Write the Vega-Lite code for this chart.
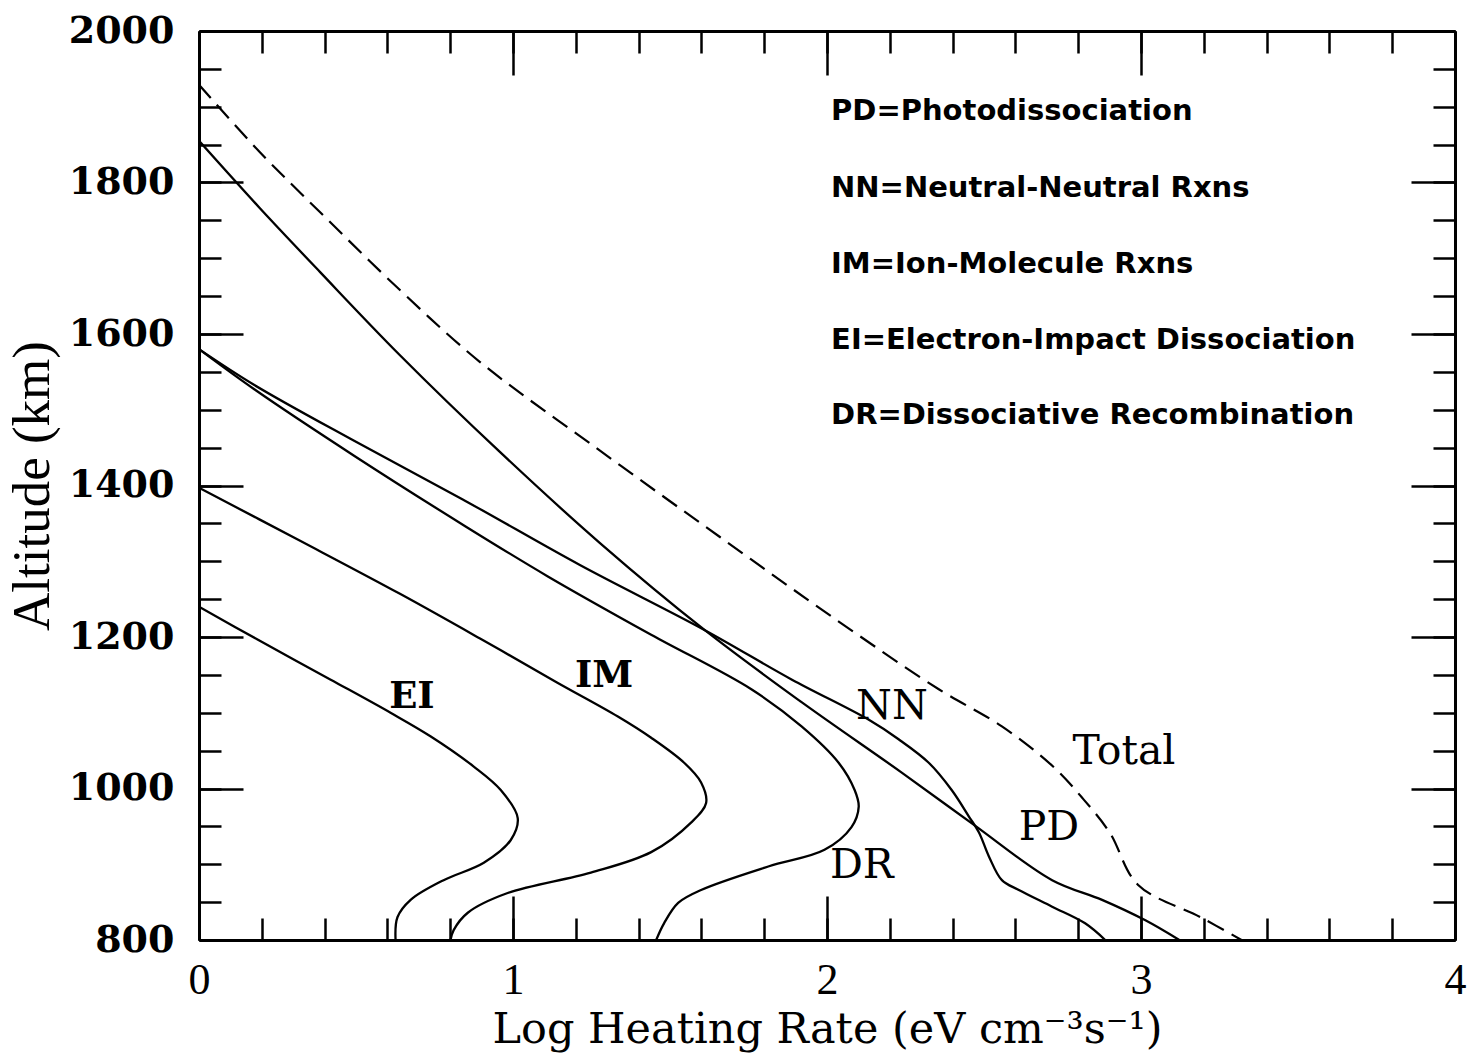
{
  "$schema": "https://vega.github.io/schema/vega-lite/v6.json",
  "width": 1256,
  "height": 909,
  "autosize": {"type": "none"},
  "padding": {"left": 199, "top": 31, "right": 20, "bottom": 119},
  "background": "white",
  "config": {"view": {"stroke": null}, "axis": {"grid": false}},
  "datasets": {
    "curves": [
      {"s": "PD", "i": 0, "x": 0, "y": 1855},
      {"s": "PD", "i": 1, "x": 0.194, "y": 1766},
      {"s": "PD", "i": 2, "x": 0.385, "y": 1682},
      {"s": "PD", "i": 3, "x": 0.64, "y": 1572},
      {"s": "PD", "i": 4, "x": 0.959, "y": 1444},
      {"s": "PD", "i": 5, "x": 1.277, "y": 1324},
      {"s": "PD", "i": 6, "x": 1.611, "y": 1209},
      {"s": "PD", "i": 7, "x": 1.919, "y": 1114},
      {"s": "PD", "i": 8, "x": 2.238, "y": 1021},
      {"s": "PD", "i": 9, "x": 2.468, "y": 952},
      {"s": "PD", "i": 10, "x": 2.717, "y": 879},
      {"s": "PD", "i": 11, "x": 2.876, "y": 853},
      {"s": "PD", "i": 12, "x": 3.014, "y": 826},
      {"s": "PD", "i": 13, "x": 3.122, "y": 800},
      {"s": "NN", "i": 0, "x": 0, "y": 1580},
      {"s": "NN", "i": 1, "x": 0.175, "y": 1533},
      {"s": "NN", "i": 2, "x": 0.494, "y": 1459},
      {"s": "NN", "i": 3, "x": 0.847, "y": 1380},
      {"s": "NN", "i": 4, "x": 1.213, "y": 1295},
      {"s": "NN", "i": 5, "x": 1.611, "y": 1209},
      {"s": "NN", "i": 6, "x": 1.887, "y": 1144},
      {"s": "NN", "i": 7, "x": 2.132, "y": 1091},
      {"s": "NN", "i": 8, "x": 2.228, "y": 1065},
      {"s": "NN", "i": 9, "x": 2.324, "y": 1034},
      {"s": "NN", "i": 10, "x": 2.397, "y": 998},
      {"s": "NN", "i": 11, "x": 2.452, "y": 963},
      {"s": "NN", "i": 12, "x": 2.484, "y": 942},
      {"s": "NN", "i": 13, "x": 2.516, "y": 910},
      {"s": "NN", "i": 14, "x": 2.557, "y": 879},
      {"s": "NN", "i": 15, "x": 2.611, "y": 866},
      {"s": "NN", "i": 16, "x": 2.717, "y": 844},
      {"s": "NN", "i": 17, "x": 2.822, "y": 822},
      {"s": "NN", "i": 18, "x": 2.886, "y": 800},
      {"s": "DR", "i": 0, "x": 0, "y": 1580},
      {"s": "DR", "i": 1, "x": 0.176, "y": 1527},
      {"s": "DR", "i": 2, "x": 0.495, "y": 1439},
      {"s": "DR", "i": 3, "x": 0.849, "y": 1346},
      {"s": "DR", "i": 4, "x": 1.111, "y": 1280},
      {"s": "DR", "i": 5, "x": 1.44, "y": 1203},
      {"s": "DR", "i": 6, "x": 1.759, "y": 1131},
      {"s": "DR", "i": 7, "x": 1.919, "y": 1082},
      {"s": "DR", "i": 8, "x": 2.037, "y": 1034},
      {"s": "DR", "i": 9, "x": 2.088, "y": 998},
      {"s": "DR", "i": 10, "x": 2.101, "y": 976},
      {"s": "DR", "i": 11, "x": 2.078, "y": 949},
      {"s": "DR", "i": 12, "x": 1.992, "y": 919},
      {"s": "DR", "i": 13, "x": 1.813, "y": 897},
      {"s": "DR", "i": 14, "x": 1.599, "y": 866},
      {"s": "DR", "i": 15, "x": 1.526, "y": 849},
      {"s": "DR", "i": 16, "x": 1.481, "y": 822},
      {"s": "DR", "i": 17, "x": 1.456, "y": 800},
      {"s": "IM", "i": 0, "x": 0, "y": 1397},
      {"s": "IM", "i": 1, "x": 0.322, "y": 1327},
      {"s": "IM", "i": 2, "x": 0.64, "y": 1257},
      {"s": "IM", "i": 3, "x": 0.895, "y": 1198},
      {"s": "IM", "i": 4, "x": 1.14, "y": 1140},
      {"s": "IM", "i": 5, "x": 1.334, "y": 1095},
      {"s": "IM", "i": 6, "x": 1.44, "y": 1067},
      {"s": "IM", "i": 7, "x": 1.545, "y": 1034},
      {"s": "IM", "i": 8, "x": 1.599, "y": 1008},
      {"s": "IM", "i": 9, "x": 1.615, "y": 981},
      {"s": "IM", "i": 10, "x": 1.567, "y": 955},
      {"s": "IM", "i": 11, "x": 1.44, "y": 916},
      {"s": "IM", "i": 12, "x": 1.248, "y": 889},
      {"s": "IM", "i": 13, "x": 0.983, "y": 862},
      {"s": "IM", "i": 14, "x": 0.856, "y": 836},
      {"s": "IM", "i": 15, "x": 0.811, "y": 813},
      {"s": "IM", "i": 16, "x": 0.801, "y": 800},
      {"s": "EI", "i": 0, "x": 0, "y": 1240},
      {"s": "EI", "i": 1, "x": 0.185, "y": 1197},
      {"s": "EI", "i": 2, "x": 0.418, "y": 1144},
      {"s": "EI", "i": 3, "x": 0.61, "y": 1100},
      {"s": "EI", "i": 4, "x": 0.737, "y": 1069},
      {"s": "EI", "i": 5, "x": 0.875, "y": 1029},
      {"s": "EI", "i": 6, "x": 0.961, "y": 998},
      {"s": "EI", "i": 7, "x": 1.015, "y": 961},
      {"s": "EI", "i": 8, "x": 0.993, "y": 932},
      {"s": "EI", "i": 9, "x": 0.907, "y": 902},
      {"s": "EI", "i": 10, "x": 0.779, "y": 879},
      {"s": "EI", "i": 11, "x": 0.674, "y": 853},
      {"s": "EI", "i": 12, "x": 0.632, "y": 830},
      {"s": "EI", "i": 13, "x": 0.626, "y": 800}
    ],
    "total": [
      {"s": "Total", "i": 0, "x": 0, "y": 1929},
      {"s": "Total", "i": 1, "x": 0.194, "y": 1840},
      {"s": "Total", "i": 2, "x": 0.385, "y": 1761},
      {"s": "Total", "i": 3, "x": 0.64, "y": 1658},
      {"s": "Total", "i": 4, "x": 0.895, "y": 1563},
      {"s": "Total", "i": 5, "x": 1.277, "y": 1446},
      {"s": "Total", "i": 6, "x": 1.659, "y": 1332},
      {"s": "Total", "i": 7, "x": 2.032, "y": 1222},
      {"s": "Total", "i": 8, "x": 2.356, "y": 1131},
      {"s": "Total", "i": 9, "x": 2.557, "y": 1082},
      {"s": "Total", "i": 10, "x": 2.72, "y": 1029},
      {"s": "Total", "i": 11, "x": 2.81, "y": 989},
      {"s": "Total", "i": 12, "x": 2.9, "y": 942},
      {"s": "Total", "i": 13, "x": 2.99, "y": 873},
      {"s": "Total", "i": 14, "x": 3.19, "y": 830},
      {"s": "Total", "i": 15, "x": 3.32, "y": 800}
    ],
    "labels": [
      {"label": "NN", "x": 2.207, "y": 1108},
      {"label": "Total", "x": 2.946, "y": 1048},
      {"label": "PD", "x": 2.707, "y": 948},
      {"label": "DR", "x": 2.111, "y": 898}
    ],
    "boldlabels": [
      {"label": "EI", "x": 0.678, "y": 1121},
      {"label": "IM", "x": 1.29, "y": 1148}
    ],
    "legend": [
      {"label": "PD=Photodissociation", "x": 2.013, "y": 1894},
      {"label": "NN=Neutral-Neutral Rxns", "x": 2.013, "y": 1793},
      {"label": "IM=Ion-Molecule Rxns", "x": 2.013, "y": 1692},
      {"label": "EI=Electron-Impact Dissociation", "x": 2.013, "y": 1592},
      {"label": "DR=Dissociative Recombination", "x": 2.013, "y": 1493}
    ]
  },
  "resolve": {"axis": {"x": "independent", "y": "independent"}},
  "layer": [
    {
      "data": {"name": "curves"},
      "mark": {"type": "line", "color": "black", "strokeWidth": 2.3, "interpolate": "catmull-rom", "clip": true},
      "encoding": {
        "x": {"field": "x", "type": "quantitative", "scale": {"domain": [0, 4], "nice": false, "zero": false},
          "axis": {"orient": "bottom", "values": [0, 1, 2, 3, 4], "format": "d", "ticks": false, "domain": true, "domainColor": "black", "domainWidth": 3,
            "labelFont": "Liberation Serif", "labelFontSize": 44, "labelColor": "black", "labelPadding": 18, "labelFlush": false, "labelOverlap": false,
            "title": "Log Heating Rate (eV cm⁻³s⁻¹)", "titleFont": "DejaVu Serif", "titleFontSize": 43, "titleFontWeight": "normal", "titleColor": "black", "titlePadding": 6}},
        "y": {"field": "y", "type": "quantitative", "scale": {"domain": [800, 2000], "nice": false, "zero": false},
          "axis": {"orient": "left", "values": [800, 1000, 1200, 1400, 1600, 1800, 2000], "format": "d", "ticks": false, "domain": true, "domainColor": "black", "domainWidth": 3,
            "labelFont": "DejaVu Serif", "labelFontWeight": "bold", "labelFontSize": 38, "labelColor": "black", "labelPadding": 25, "labelFlush": false, "labelOverlap": false,
            "title": "Altitude (km)", "titleFont": "Liberation Serif", "titleFontSize": 53, "titleFontWeight": "normal", "titleColor": "black", "titlePadding": 9}},
        "detail": {"field": "s"},
        "order": {"field": "i", "type": "quantitative"}
      }
    },
    {
      "data": {"name": "total"},
      "mark": {"type": "line", "color": "black", "strokeWidth": 2.2, "strokeDash": [18, 9], "interpolate": "catmull-rom", "clip": true},
      "encoding": {
        "x": {"field": "x", "type": "quantitative", "scale": {"domain": [0, 4], "nice": false, "zero": false},
          "axis": {"orient": "top", "values": [0, 1, 2, 3, 4], "labels": false, "ticks": true, "tickSize": -44, "tickWidth": 2.5, "tickColor": "black", "domain": true, "domainColor": "black", "domainWidth": 3, "title": null}},
        "y": {"field": "y", "type": "quantitative", "scale": {"domain": [800, 2000], "nice": false, "zero": false},
          "axis": {"orient": "right", "values": [800, 1000, 1200, 1400, 1600, 1800, 2000], "labels": false, "ticks": true, "tickSize": -44, "tickWidth": 2.5, "tickColor": "black", "domain": true, "domainColor": "black", "domainWidth": 3, "title": null}},
        "order": {"field": "i", "type": "quantitative"}
      }
    },
    {
      "data": {"name": "labels"},
      "mark": {"type": "text", "font": "DejaVu Serif", "fontSize": 41, "color": "black", "align": "center", "baseline": "middle"},
      "encoding": {
        "x": {"field": "x", "type": "quantitative", "scale": {"domain": [0, 4], "nice": false, "zero": false},
          "axis": {"orient": "bottom", "values": [0, 1, 2, 3, 4], "labels": false, "ticks": true, "tickSize": -44, "tickWidth": 2.5, "tickColor": "black", "domain": false, "title": null}},
        "y": {"field": "y", "type": "quantitative", "scale": {"domain": [800, 2000], "nice": false, "zero": false},
          "axis": {"orient": "left", "values": [800, 1000, 1200, 1400, 1600, 1800, 2000], "labels": false, "ticks": true, "tickSize": -44, "tickWidth": 2.5, "tickColor": "black", "domain": false, "title": null}},
        "text": {"field": "label"}
      }
    },
    {
      "data": {"name": "boldlabels"},
      "mark": {"type": "text", "font": "DejaVu Serif", "fontWeight": "bold", "fontSize": 37, "color": "black", "align": "center", "baseline": "middle"},
      "encoding": {
        "x": {"field": "x", "type": "quantitative", "scale": {"domain": [0, 4], "nice": false, "zero": false},
          "axis": {"orient": "bottom", "values": [0, 0.2, 0.4, 0.6, 0.8, 1, 1.2, 1.4, 1.6, 1.8, 2, 2.2, 2.4, 2.6, 2.8, 3, 3.2, 3.4, 3.6, 3.8, 4], "labels": false, "ticks": true, "tickSize": -22, "tickWidth": 2.5, "tickColor": "black", "domain": false, "title": null}},
        "y": {"field": "y", "type": "quantitative", "scale": {"domain": [800, 2000], "nice": false, "zero": false},
          "axis": {"orient": "left", "values": [800, 850, 900, 950, 1000, 1050, 1100, 1150, 1200, 1250, 1300, 1350, 1400, 1450, 1500, 1550, 1600, 1650, 1700, 1750, 1800, 1850, 1900, 1950, 2000], "labels": false, "ticks": true, "tickSize": -22, "tickWidth": 2.5, "tickColor": "black", "domain": false, "title": null}},
        "text": {"field": "label"}
      }
    },
    {
      "data": {"name": "legend"},
      "mark": {"type": "text", "font": "DejaVu Sans", "fontWeight": "bold", "fontSize": 29, "color": "black", "align": "left", "baseline": "middle"},
      "encoding": {
        "x": {"field": "x", "type": "quantitative", "scale": {"domain": [0, 4], "nice": false, "zero": false},
          "axis": {"orient": "top", "values": [0, 0.2, 0.4, 0.6, 0.8, 1, 1.2, 1.4, 1.6, 1.8, 2, 2.2, 2.4, 2.6, 2.8, 3, 3.2, 3.4, 3.6, 3.8, 4], "labels": false, "ticks": true, "tickSize": -22, "tickWidth": 2.5, "tickColor": "black", "domain": false, "title": null}},
        "y": {"field": "y", "type": "quantitative", "scale": {"domain": [800, 2000], "nice": false, "zero": false},
          "axis": {"orient": "right", "values": [800, 850, 900, 950, 1000, 1050, 1100, 1150, 1200, 1250, 1300, 1350, 1400, 1450, 1500, 1550, 1600, 1650, 1700, 1750, 1800, 1850, 1900, 1950, 2000], "labels": false, "ticks": true, "tickSize": -22, "tickWidth": 2.5, "tickColor": "black", "domain": false, "title": null}},
        "text": {"field": "label"}
      }
    }
  ]
}
